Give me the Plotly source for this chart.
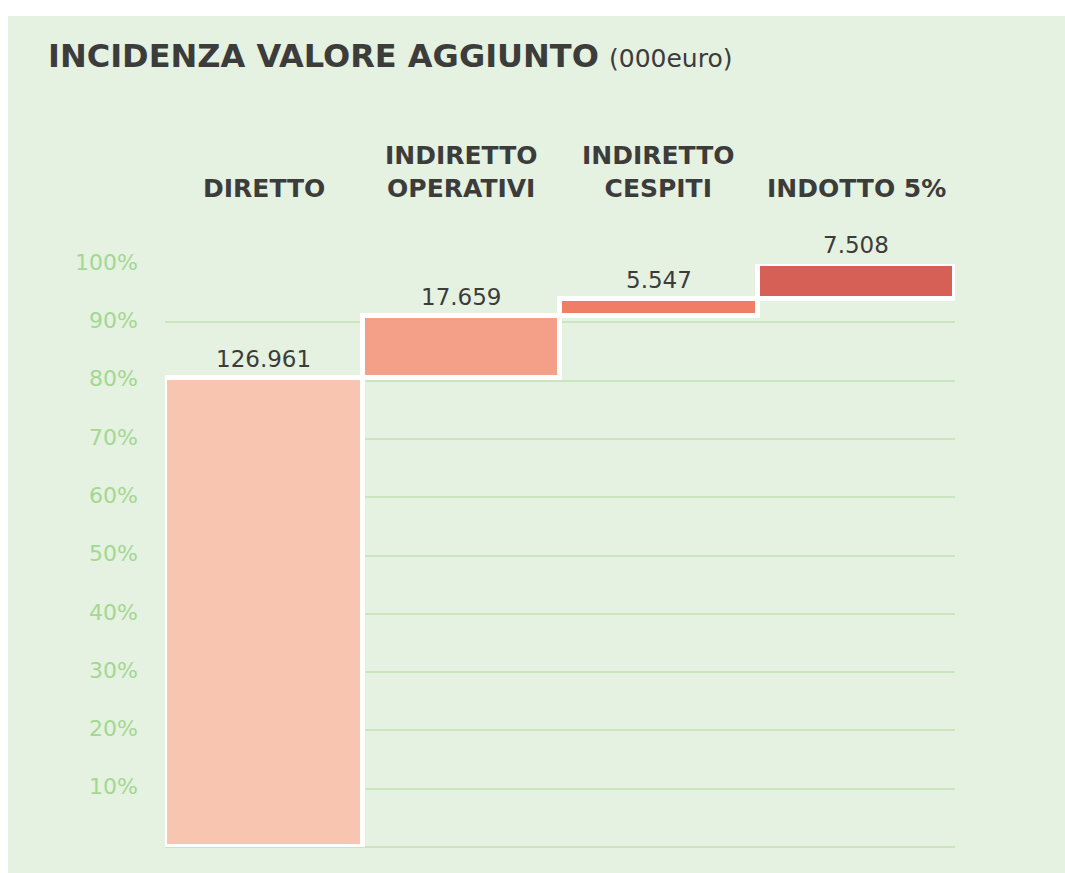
import plotly.graph_objects as go

categories = ["DIRETTO", "INDIRETTO<br>OPERATIVI", "INDIRETTO<br>CESPITI", "INDOTTO 5%"]
value_labels = ["126.961", "17.659", "5.547", "7.508"]
bases = [0, 80.5, 91.0, 94.0]          # % start of each step
heights = [80.5, 10.5, 3.0, 6.0]       # % height of each step
colors = ["#F8C5B0", "#F4A088", "#F07E65", "#D66055"]
tick_vals = [10, 20, 30, 40, 50, 60, 70, 80, 90, 100]
tick_text = [f"{v}%" for v in tick_vals]

TEXT = "#3C3C3B"
BG = "#E5F1E1"
GRID = "#C9E6BF"
TICK = "#A3D891"

W, H = 1065, 873
L, R, T, B = 165, 110, 264, 26
PW = W - L - R
PH = H - T - B

fig = go.Figure()
fig.add_trace(go.Bar(
    x=list(range(len(categories))), y=heights, base=bases,
    width=1, marker=dict(color=colors, line=dict(color="white", width=5)),
    cliponaxis=False, hoverinfo="skip", showlegend=False,
))

for i, (b, h, t) in enumerate(zip(bases, heights, value_labels)):
    fig.add_annotation(x=i, y=b + h, xref="x", yref="y", text=t, showarrow=False,
                       yanchor="bottom", yshift=4,
                       font=dict(family="DejaVu Sans", size=23, color=TEXT))
for i, c in enumerate(categories):
    fig.add_annotation(x=i, y=1.101, xref="x", yref="paper", text=c, showarrow=False,
                       yanchor="bottom", align="center",
                       font=dict(family="DejaVu Sans", size=25, color=TEXT, weight="bold"))

# white margins around the green panel (left and top)
fig.add_shape(type="rect", xref="paper", yref="paper", layer="below",
              x0=-L / PW - 0.01, x1=(8 - L) / PW, y0=-B / PH - 0.01, y1=(PH + T) / PH + 0.01,
              fillcolor="white", line=dict(width=0))
fig.add_shape(type="rect", xref="paper", yref="paper", layer="below",
              x0=-L / PW - 0.01, x1=(W - L) / PW + 0.01, y0=(PH + T - 16) / PH, y1=(PH + T) / PH + 0.01,
              fillcolor="white", line=dict(width=0))

fig.update_layout(
    width=W, height=H,
    margin=dict(l=L, r=R, t=T, b=B),
    paper_bgcolor=BG, plot_bgcolor="rgba(0,0,0,0)",
    title=dict(text="<b>INCIDENZA VALORE AGGIUNTO</b> <span style='font-size:25px;font-weight:normal'>(000euro)</span>",
               x=48 / W, xanchor="left", y=1 - 56 / H, yanchor="middle",
               font=dict(family="DejaVu Sans", size=32, color=TEXT)),
    bargap=0,
    xaxis=dict(range=[-0.5, 3.5], showticklabels=False, showgrid=False, zeroline=False, fixedrange=True),
    yaxis=dict(range=[0, 100], tickvals=tick_vals, ticktext=tick_text,
               showgrid=True, gridcolor=GRID, gridwidth=2,
               zeroline=True, zerolinecolor=GRID, zerolinewidth=2,
               ticklabelstandoff=26, ticklabelshift=-2,
               tickfont=dict(family="DejaVu Sans", size=22, color=TICK)),
)

fig.write_html("out.html", config={"displayModeBar": False},
               post_script="document.body.style.margin='0';")
